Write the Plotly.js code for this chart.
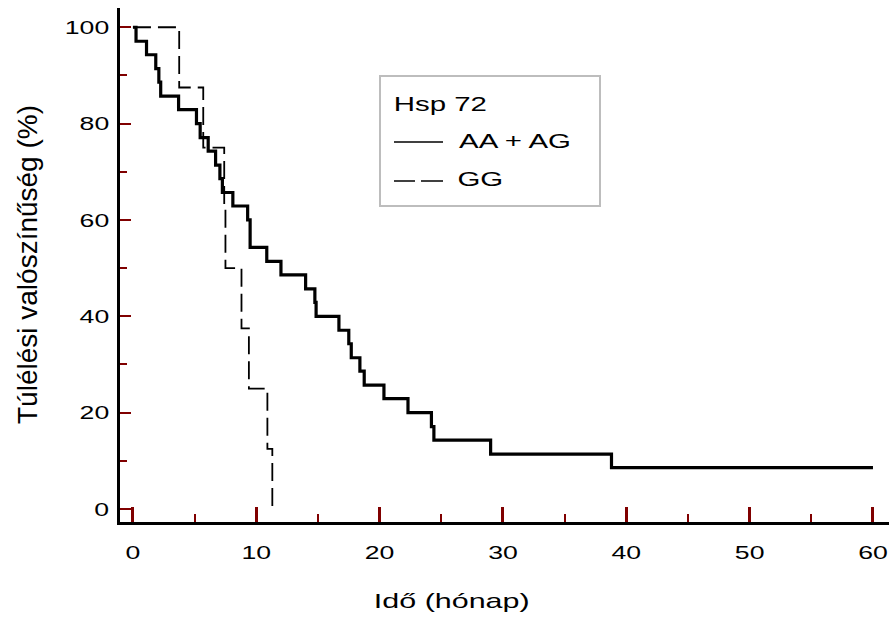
<!DOCTYPE html>
<html>
<head>
<meta charset="utf-8">
<script src="https://cdn.plot.ly/plotly-3.0.1.min.js"></script>
<style>
  html, body { margin: 0; padding: 0; background: #fff; }
  #chart { width: 891px; height: 618px; }
</style>
</head>
<body>
<div id="chart"></div>
<script>
// AA + AG (solid) Kaplan-Meier step curve: time (months) and survival (%)
const timeAAAG = [0, 0.25, 1.1, 1.85, 2.1, 2.25, 3.7, 5.15, 5.45, 6.1, 6.7, 7.05, 7.25, 8.1, 9.3, 9.5, 10.85, 12.0, 14.0, 14.75, 14.85, 16.7, 17.5, 17.7, 18.4, 18.75, 20.35, 22.3, 24.2, 24.4, 29.0, 38.8, 60];
const survAAAG = [100, 97.1, 94.3, 91.4, 88.6, 85.7, 82.9, 80.0, 77.1, 74.3, 71.4, 68.6, 65.7, 62.9, 60.0, 54.3, 51.4, 48.6, 45.7, 42.9, 40.0, 37.1, 34.3, 31.4, 28.6, 25.7, 22.9, 20.0, 17.1, 14.3, 11.4, 8.6, 8.6];

// GG (dashed)
const timeGG = [0, 3.75, 5.7, 7.4, 7.5, 8.8, 9.4, 10.9, 11.3];
const survGG = [100, 87.5, 75, 62.5, 50, 37.5, 25, 12.5, 0];

const xTicks = [0, 10, 20, 30, 40, 50, 60];
const yTicks = [0, 20, 40, 60, 80, 100];

const legendTitle = 'Hsp 72';
const seriesNames = ['AA + AG', 'GG'];
const xTitle = 'Idő (hónap)';
const yTitle = 'Túlélési valószínűség (%)';

const FONT = 'Liberation Sans, Arial, sans-serif';

const traces = [
  { x: timeAAAG, y: survAAAG, name: seriesNames[0], type: 'scatter', mode: 'lines',
    line: { shape: 'hv', color: '#000', width: 3.2 }, showlegend: false, hoverinfo: 'x+y' },
  { x: timeGG, y: survGG, name: seriesNames[1], type: 'scatter', mode: 'lines',
    line: { shape: 'hv', color: '#000', width: 1.8, dash: '18px,7px' }, showlegend: false, hoverinfo: 'x+y' }
];

// plot area in pixels: left 120, right 889, top 8, bottom 522
const px = v => (v - 120) / 769;
const py = v => (522 - v) / 514;

const layout = {
  width: 891, height: 618,
  margin: { l: 120, r: 2, t: 8, b: 96, pad: 0 },
  paper_bgcolor: '#fff', plot_bgcolor: '#fff',
  font: { family: FONT, size: 20, color: '#000' },
  showlegend: false,
  xaxis: {
    range: [-1.05, 61.3], tickvals: xTicks, ticktext: xTicks.map(String),
    ticks: 'inside', ticklen: 15, tickwidth: 2.5, tickcolor: '#800000',
    minor: { dtick: 5, tick0: 0, ticks: 'inside', ticklen: 8, tickwidth: 2, tickcolor: '#800000' },
    showline: true, linewidth: 3, linecolor: '#000', showgrid: false, zeroline: false,
    tickfont: { family: FONT, size: 19, color: '#000' }, ticklabelstandoff: 11
  },
  yaxis: {
    range: [-2.7, 104], tickvals: yTicks, ticktext: yTicks.map(String),
    ticks: 'inside', ticklen: 11, tickwidth: 2, tickcolor: '#800000',
    minor: { dtick: 10, tick0: 0, ticks: 'inside', ticklen: 7, tickwidth: 1.6, tickcolor: '#800000' },
    showline: true, linewidth: 3, linecolor: '#000', showgrid: false, zeroline: false,
    tickfont: { family: FONT, size: 19, color: '#000' }, ticklabelstandoff: 4
  },
  shapes: [
    { type: 'rect', xref: 'paper', yref: 'paper', x0: px(380), x1: px(600), y0: py(206), y1: py(76),
      line: { color: '#bdbdbd', width: 2 }, fillcolor: 'rgba(0,0,0,0)' },
    { type: 'line', xref: 'paper', yref: 'paper', x0: px(394), x1: px(443), y0: py(142), y1: py(142),
      line: { color: '#000', width: 1.5 } },
    { type: 'line', xref: 'paper', yref: 'paper', x0: px(394), x1: px(415), y0: py(181), y1: py(181),
      line: { color: '#000', width: 1.5 } },
    { type: 'line', xref: 'paper', yref: 'paper', x0: px(421), x1: px(443), y0: py(181), y1: py(181),
      line: { color: '#000', width: 1.5 } }
  ],
  annotations: [
    { xref: 'paper', yref: 'paper', x: px(440.5), y: py(103), xanchor: 'center', yanchor: 'middle',
      text: legendTitle, showarrow: false, font: { family: FONT, size: 21, color: '#000' } },
    { xref: 'paper', yref: 'paper', x: px(515), y: py(141), xanchor: 'center', yanchor: 'middle',
      text: seriesNames[0], showarrow: false, font: { family: FONT, size: 21, color: '#000' } },
    { xref: 'paper', yref: 'paper', x: px(480), y: py(178), xanchor: 'center', yanchor: 'middle',
      text: seriesNames[1], showarrow: false, font: { family: FONT, size: 21, color: '#000' } },
    { xref: 'paper', yref: 'paper', x: px(451.5), y: py(600), xanchor: 'center', yanchor: 'middle',
      text: xTitle, showarrow: false, font: { family: FONT, size: 21, color: '#000' } },
    { xref: 'paper', yref: 'paper', x: px(27), y: py(265), xanchor: 'center', yanchor: 'middle', textangle: -90,
      text: yTitle, showarrow: false, font: { family: FONT, size: 28, color: '#000' } }
  ]
};

// The reference's horizontal texts are widened; stretch glyphs horizontally.
function widen(el, factor) {
  try {
    const len = el.getComputedTextLength();
    if (len > 0) {
      el.setAttribute('textLength', (len * factor).toFixed(2));
      el.setAttribute('lengthAdjust', 'spacingAndGlyphs');
    }
  } catch (e) {}
}

Plotly.newPlot('chart', traces, layout, { displayModeBar: false }).then(gd => {
  gd.querySelectorAll('.xtick text, .ytick text').forEach(t => widen(t, 1.4));
  gd.querySelectorAll('g.annotation').forEach(g => {
    const idx = g.getAttribute('data-index');
    const t = g.querySelector('text.annotation-text');
    if (!t) return;
    if (idx === '0' || idx === '1' || idx === '2') widen(t, 1.4);
    if (idx === '3') widen(t, 1.45);
  });
});
</script>
</body>
</html>
